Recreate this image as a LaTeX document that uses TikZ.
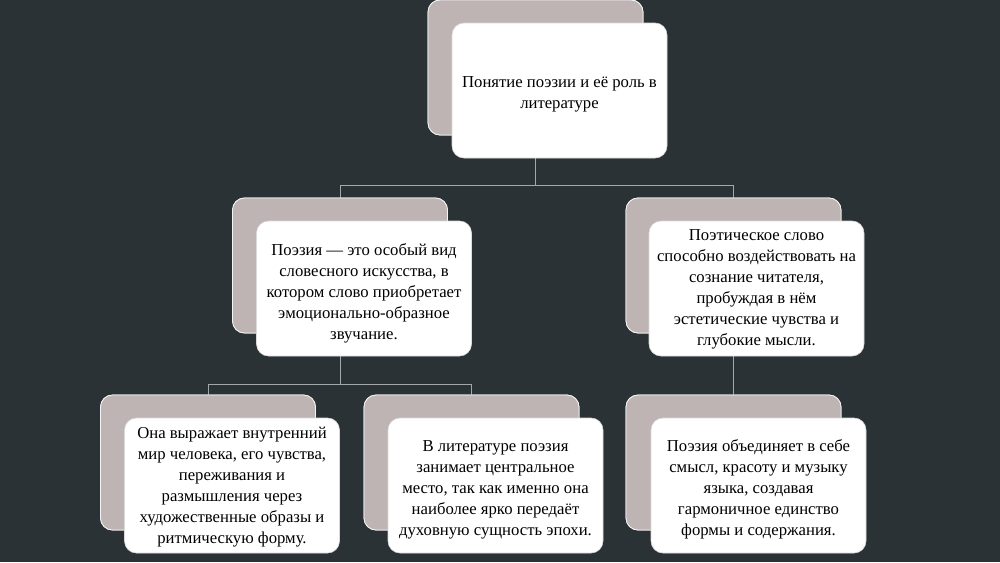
\documentclass[tikz,border=0pt]{standalone}
\usepackage{fontspec}
\setmainfont{Liberation Serif}
\definecolor{board}{HTML}{2A3236}
\definecolor{backbox}{HTML}{BEB4B4}
\definecolor{conncol}{HTML}{A3A8AA}
\begin{document}
\begin{tikzpicture}[x=1pt,y=-1pt,
  backrect/.style={draw=white!85!backbox, line width=0.8pt, fill=backbox, rounded corners=12pt,
    minimum width=215pt, minimum height=135pt, inner sep=0pt},
  frontrect/.style={draw=black!15, line width=0.6pt, fill=white, rounded corners=12pt,
    minimum width=215pt, minimum height=135pt, inner sep=0pt},
  txt/.style={align=center, inner sep=0pt, font=\fontsize{16.7}{21}\selectfont, text=black},
  conn/.style={draw=conncol, line width=0.9pt}]
\fill[board] (0,0) rectangle (1000,562);
\useasboundingbox (0,0) rectangle (1000,562);

% back boxes (named, used for connector ends)
\node[backrect] (tb) at (535.5,67.5) {};
\node[backrect] (mlb) at (340,265.5) {};
\node[backrect] (mrb) at (733.5,265.5) {};
\node[backrect] (blb) at (208,462.5) {};
\node[backrect] (bmb) at (471.5,462.5) {};
\node[backrect] (brb) at (733.5,462.5) {};

% connectors
\draw[conn] (tb.south) -- ++(0,50) coordinate (bus1);
\draw[conn] (mlb.north) |- (bus1) -| (mrb.north);
\draw[conn] (mlb.south) -- ++(0,51) coordinate (bus2);
\draw[conn] (blb.north) |- (bus2) -| (bmb.north);
\draw[conn] (mrb.south) -- (brb.north);

% redraw back boxes over connectors
\node[backrect] at (tb) {};
\node[backrect] at (mlb) {};
\node[backrect] at (mrb) {};
\node[backrect] at (blb) {};
\node[backrect] at (bmb) {};
\node[backrect] at (brb) {};

% front boxes
\node[frontrect] (tf) at (559.5,90.5) {};
\node[frontrect] (mlf) at (364,288.5) {};
\node[frontrect] (mrf) at (756.5,288.5) {};
\node[frontrect] (blf) at (232,485.5) {};
\node[frontrect] (bmf) at (495.5,485.5) {};
\node[frontrect] (brf) at (758.5,485.5) {};

% texts
\node[txt] (tt) at ([yshift=-4pt]tf.center) {Понятие поэзии и её роль в\\литературе};
\node[txt] (mlt) at ([yshift=-4.5pt]mlf.center) {Поэзия — это особый вид\\словесного искусства, в\\котором слово приобретает\\эмоционально-образное\\звучание.};
\node[txt] (mrt) at ([yshift=-1pt]mrf.center) {Поэтическое слово\\способно воздействовать на\\сознание читателя,\\пробуждая в нём\\эстетические чувства и\\глубокие мысли.};
\node[txt] (blt) at ([yshift=-1.5pt]blf.center) {Она выражает внутренний\\мир человека, его чувства,\\переживания и\\размышления через\\художественные образы и\\ритмическую форму.};
\node[txt] (bmt) at ([yshift=-4pt]bmf.center) {В литературе поэзия\\занимает центральное\\место, так как именно она\\наиболее ярко передаёт\\духовную сущность эпохи.};
\node[txt] (brt) at ([yshift=-4pt]brf.center) {Поэзия объединяет в себе\\смысл, красоту и музыку\\языка, создавая\\гармоничное единство\\формы и содержания.};
\end{tikzpicture}
\end{document}
